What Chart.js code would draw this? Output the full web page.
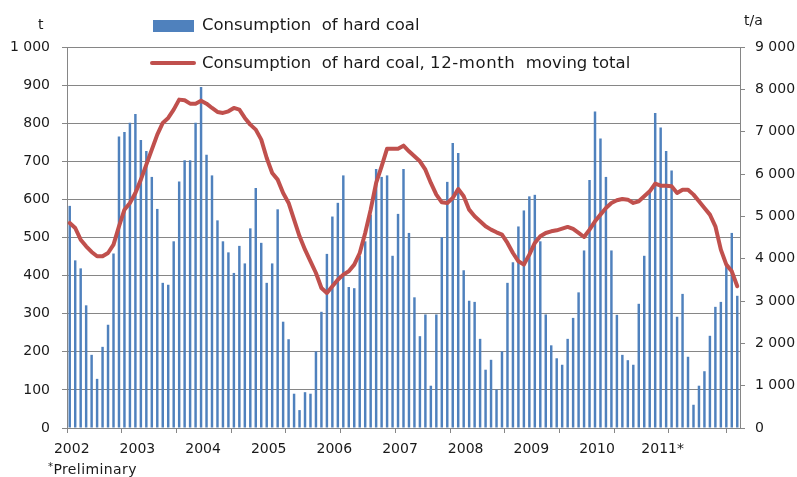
<!DOCTYPE html>
<html>
<head>
<meta charset="utf-8">
<script src="https://cdn.jsdelivr.net/npm/chart.js@4"></script>
<style>
html,body{margin:0;padding:0;background:#fff;}
#wrap{position:relative;width:797px;height:477px;overflow:hidden;font-family:"DejaVu Sans",sans-serif;color:#1a1a1a;}
canvas{position:absolute;left:0;top:0;}
.t{position:absolute;white-space:pre;line-height:1;}
</style>
</head>
<body>
<div id="wrap">
<canvas id="c" width="797" height="477"></canvas>
<div class="t" style="left:38px;top:17px;font-size:14px;">t</div>
<div class="t" style="left:744px;top:13px;font-size:14px;">t/a</div>
<div style="position:absolute;left:153px;top:20px;width:41px;height:12px;background:#4F81BD"></div>
<div class="t" style="left:202px;top:17px;font-size:16.5px;">Consumption  of hard coal</div>
<div style="position:absolute;left:150px;top:61px;width:46px;height:4px;border-radius:2px;background:#C0504D"></div>
<div class="t" style="left:202px;top:55px;font-size:16.5px;">Consumption  of hard coal, <span style="letter-spacing:0.6px;">12-month</span>  moving total</div>
<div class="t" style="left:48px;top:462px;font-size:14px;letter-spacing:0.4px;"><span style="font-size:10px;position:relative;top:-4px;">*</span>Preliminary</div>
</div>
<script>
// Year tick labels (one per January, starting 2002)
const yearLabels = ['2002','2003','2004','2005','2006','2007','2008','2009','2010','2011*'];

// Monthly consumption of hard coal, t (left axis)
const monthlyConsumption = [
  583,440,419,322,192,129,213,271,458,765,777,801,
  824,756,727,659,575,381,376,490,647,703,703,801,
  895,717,663,545,490,461,407,478,432,524,630,486,
  381,432,574,279,233,90,47,94,90,201,305,457,
  555,591,663,370,367,452,490,560,680,659,663,452,
  562,680,512,343,241,298,111,298,501,646,748,722,
  414,334,331,234,153,179,101,201,381,435,529,571,
  608,612,490,298,217,183,166,234,289,356,466,651,
  831,760,659,466,297,192,178,166,326,452,620,827,
  789,727,676,292,352,187,61,111,149,242,318,331,
  430,512,347
];

// 12-month moving total, t/a (right axis)
const movingTotal = [
  4843,4725,4449,4292,4158,4056,4056,4134,4331,4764,5158,5316,
  5552,5867,6221,6575,6930,7206,7324,7521,7757,7741,7662,7662,
  7733,7662,7560,7466,7442,7481,7560,7521,7324,7166,7048,6812,
  6379,6024,5867,5552,5316,4922,4528,4213,3938,3662,3308,3189,
  3347,3504,3623,3701,3859,4134,4607,5158,5788,6182,6599,6599,
  6599,6670,6536,6418,6300,6103,5788,5513,5331,5316,5434,5646,
  5473,5158,5001,4883,4764,4686,4623,4568,4371,4134,3938,3859,
  4095,4371,4528,4607,4646,4670,4709,4750,4701,4607,4512,4686,
  4883,5040,5198,5316,5379,5410,5394,5316,5355,5473,5591,5772,
  5725,5725,5709,5552,5630,5630,5513,5355,5198,5040,4764,4213,
  3859,3701,3347
];

const categories = monthlyConsumption.map((v, i) => (2002 + Math.floor(i / 12)) + '-' + String(i % 12 + 1).padStart(2, '0'));

const GRID = '#868686';
const TXT = '#1a1a1a';
const fmt = v => String(v).replace(/\B(?=(\d{3})+(?!\d))/g, ' ');

new Chart(document.getElementById('c'), {
  data: {
    labels: categories,
    datasets: [
      {
        type: 'line',
        label: 'Consumption of hard coal, 12-month moving total',
        data: movingTotal,
        yAxisID: 'y1',
        borderColor: '#C0504D',
        borderWidth: 4,
        pointRadius: 0,
        tension: 0,
        borderJoinStyle: 'round',
        borderCapStyle: 'round',
        order: 0
      },
      {
        type: 'bar',
        label: 'Consumption of hard coal',
        data: monthlyConsumption,
        yAxisID: 'y',
        backgroundColor: '#4F81BD',
        categoryPercentage: 1,
        barPercentage: 0.45,
        order: 1
      }
    ]
  },
  options: {
    responsive: false,
    animation: false,
    devicePixelRatio: 1,
    layout: { padding: { top: 47, left: 0, right: 0, bottom: 0 } },
    plugins: { legend: { display: false }, tooltip: { enabled: false } },
    scales: {
      x: {
        type: 'category',
        offset: true,
        grid: {
          offset: true,
          drawOnChartArea: false,
          drawTicks: true,
          tickLength: 5,
          color: ctx => (ctx.index !== undefined && ctx.index % 10 === 0) ? GRID : 'rgba(0,0,0,0)'
        },
        border: { display: true, color: GRID },
        ticks: {
          autoSkip: false,
          maxRotation: 0,
          minRotation: 0,
          padding: 8,
          labelOffset: 2,
          color: TXT,
          font: { family: 'DejaVu Sans', size: 14 },
          callback: (v, i) => (i % 12 === 0 ? yearLabels[i / 12] : '')
        },
        afterFit: s => { s.height = 49; }
      },
      y: {
        position: 'left',
        min: 0,
        max: 1000,
        grid: { color: GRID, tickLength: 5, drawTicks: true },
        border: { display: true, color: GRID },
        ticks: {
          stepSize: 100,
          padding: 12,
          color: TXT,
          font: { family: 'DejaVu Sans', size: 14 },
          callback: v => fmt(v)
        },
        afterFit: s => { s.width = 67; }
      },
      y1: {
        position: 'right',
        min: 0,
        max: 9000,
        grid: { drawOnChartArea: false, color: GRID, tickLength: 5, drawTicks: true },
        border: { display: true, color: GRID },
        ticks: {
          stepSize: 1000,
          padding: 10,
          color: TXT,
          font: { family: 'DejaVu Sans', size: 14 },
          callback: v => fmt(v)
        },
        afterFit: s => { s.width = 57; }
      }
    }
  }
});
</script>
</body>
</html>
